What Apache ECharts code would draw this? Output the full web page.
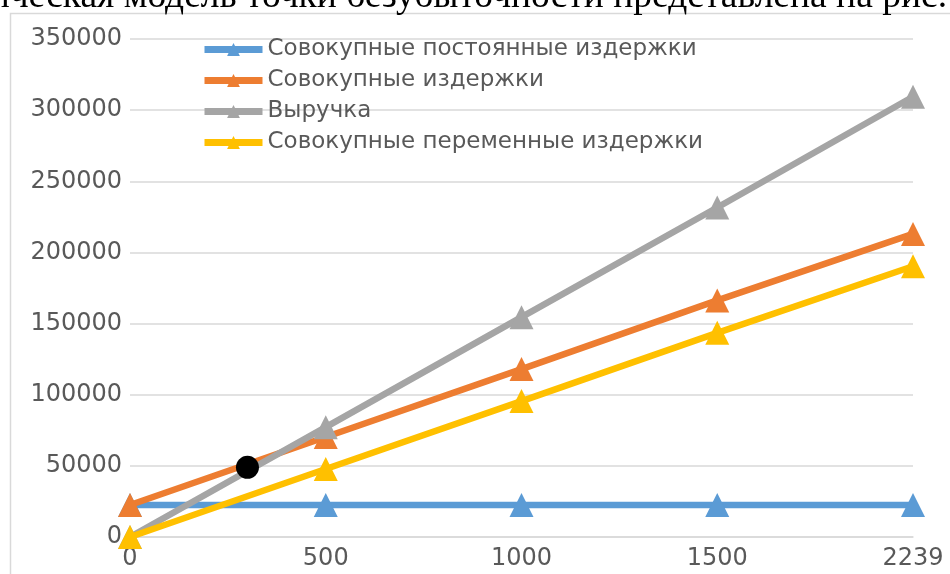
<!DOCTYPE html>
<html><head><meta charset="utf-8">
<script src="https://cdn.jsdelivr.net/npm/echarts@6/dist/echarts.min.js"></script>
<style>html,body{margin:0;padding:0;background:#fff}#c{width:950px;height:574px}</style>
</head><body><div id="c"></div>
<script>
var categories = ['0', '500', '1000', '1500', '2239'];
var fixedCosts = [22500, 22500, 22500, 22500, 22500];
var totalCosts = [22500, 70300, 118000, 166300, 213000];
var revenue = [0, 77200, 154500, 231600, 309400];
var variableCosts = [0, 47800, 95500, 143500, 190300];
var breakEven = [[0.6, 49000]];
var seriesNames = ['Совокупные постоянные издержки', 'Совокупные издержки', 'Выручка', 'Совокупные переменные издержки'];
var colors = ['#5B9BD5', '#ED7D31', '#A5A5A5', '#FFC000'];
var captionText = 'Графическая модель точки безубыточности представлена на рис.';

var chart = echarts.init(document.getElementById('c'));
var font = 'DejaVu Sans';
function lineSeries(i, data) {
  return {
    name: seriesNames[i], type: 'line', data: data,
    xAxisIndex: 0, yAxisIndex: 0,
    symbol: 'triangle', symbolSize: 24, showSymbol: true,
    lineStyle: { width: 6.5, color: colors[i] },
    itemStyle: { color: colors[i], opacity: 1 },
    animation: false, z: 2 + i
  };
}
chart.setOption({
  animation: false,
  color: colors,
  graphic: [
    { type: 'rect', shape: { x: 10.5, y: 13.5, width: 960, height: 600 },
      style: { fill: null, stroke: '#d9d9d9', lineWidth: 1.5 }, z: -1 },
    { type: 'text', right: 3, top: -22,
      style: { text: captionText, font: '37.5px "Liberation Serif"', fill: '#000' }, z: 100 }
  ],
  grid: { left: 130, right: 37, top: 39, bottom: 37, containLabel: false },
  legend: {
    data: seriesNames, orient: 'vertical', left: 196, top: 33,
    itemWidth: 58, itemHeight: 16, itemGap: 8,
    lineStyle: { width: 7 },
    textStyle: { fontFamily: font, fontSize: 23, color: '#595959' }
  },
  xAxis: [{
    type: 'category', data: categories, boundaryGap: false,
    axisLine: { lineStyle: { color: '#d9d9d9', width: 1.5 } },
    axisTick: { show: false },
    axisLabel: { fontFamily: font, fontSize: 24, color: '#595959', margin: 10 },
    splitLine: { show: false }
  }, {
    type: 'value', min: 0, max: 4, show: false
  }],
  yAxis: {
    type: 'value', min: 0, max: 350000, interval: 50000,
    axisLine: { show: false }, axisTick: { show: false },
    axisLabel: { fontFamily: font, fontSize: 24, color: '#595959', margin: 8,
      formatter: function (v) { return String(v); } },
    splitLine: { lineStyle: { color: '#d9d9d9', width: 1.5 } }
  },
  series: [
    lineSeries(0, fixedCosts),
    lineSeries(1, totalCosts),
    lineSeries(2, revenue),
    lineSeries(3, variableCosts),
    { type: 'scatter', xAxisIndex: 1, yAxisIndex: 0, data: breakEven,
      symbol: 'circle', symbolSize: 23, itemStyle: { color: '#000', opacity: 1 }, z: 10, silent: true }
  ]
});
</script></body></html>
